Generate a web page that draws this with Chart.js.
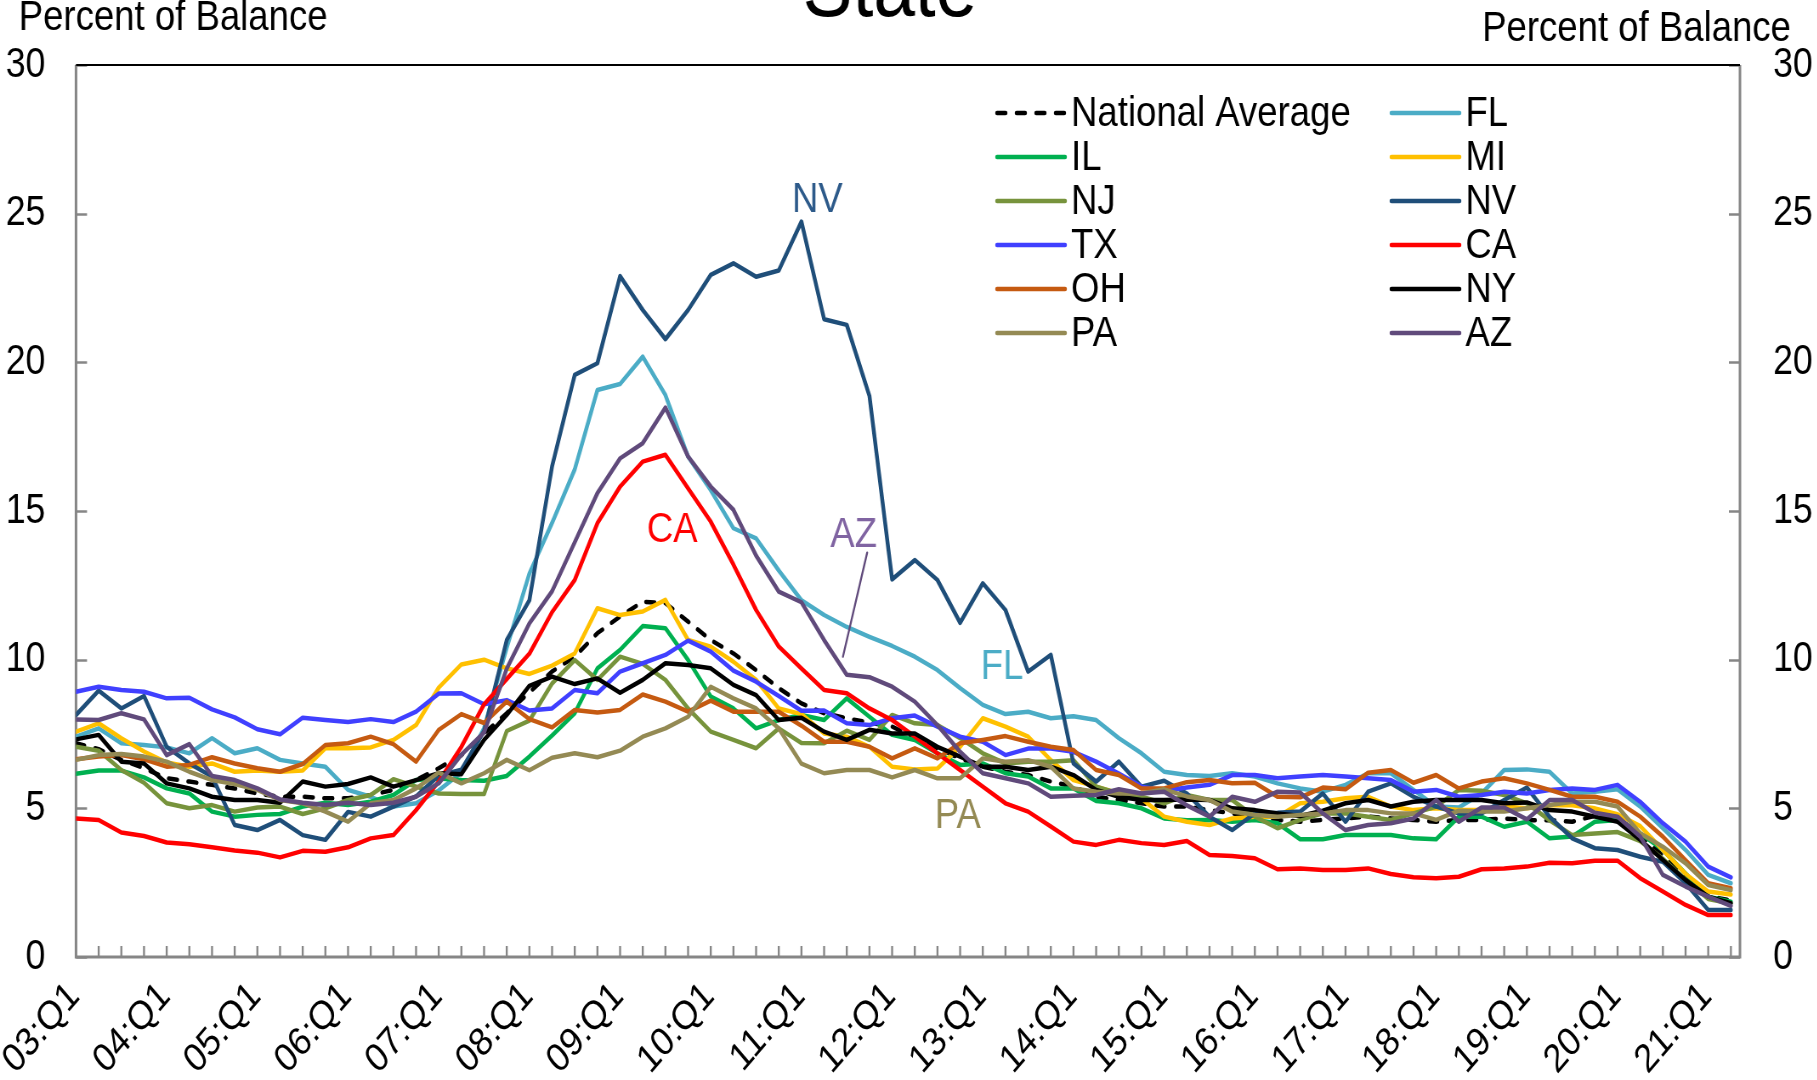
<!DOCTYPE html>
<html>
<head>
<meta charset="utf-8">
<title>Percent of Balance by State</title>
<script src="https://cdn.jsdelivr.net/npm/chart.js@4.4.1/dist/chart.umd.min.js"></script>
<style>
    html, body { margin: 0; padding: 0; background: #ffffff; overflow: hidden; }
    #wrap { position: relative; width: 1817px; height: 1080px; overflow: hidden; }
    /* the chart is laid out wide and squeezed horizontally, like the printed exhibit */
    #stateChart { display: block; width: 2138px; height: 1080px; transform: scaleX(0.85); transform-origin: 0 0; }
</style>
</head>
<body>
<div id="wrap"><canvas id="stateChart" width="2138" height="1080"></canvas></div>
<script>
// -----------------------------------------
// 1. DATA (quarterly, 03:Q1 - 21:Q2)
// -----------------------------------------
const years = ["03", "04", "05", "06", "07", "08", "09", "10", "11", "12",
               "13", "14", "15", "16", "17", "18", "19", "20", "21"];
const lastQuarter = 2; // series ends at 21:Q2

const yTicks = [0, 5, 10, 15, 20, 25, 30];

const nationalAvg = [7.19, 6.99, 6.63, 6.35, 6.01, 5.9, 5.79, 5.67, 5.5, 5.39, 5.39, 5.34, 5.34, 5.45, 5.62, 5.95,
    6.35, 6.79, 7.52, 8.2, 8.9, 9.6, 10.1, 10.89, 11.45, 11.95, 11.9, 11.28, 10.66, 10.21, 9.65, 9.04,
    8.53, 8.2, 8.03, 7.88, 7.75, 7.36, 7.02, 6.68, 6.4, 6.23, 6.12, 5.9, 5.73, 5.39, 5.28, 5.17,
    5.06, 5.06, 4.94, 4.83, 4.72, 4.61, 4.55, 4.61, 4.66, 4.72, 4.66, 4.61, 4.55, 4.61, 4.61, 4.66,
    4.6, 4.6, 4.55, 4.75, 4.7, 4.1, 3.4, 2.7, 2.05, 1.9];
const fl = [7.41, 7.69, 7.19, 7.13, 7.05, 6.85, 7.36, 6.85, 7.02, 6.63, 6.51, 6.4, 5.62, 5.39, 5.06, 5.17,
    5.6, 6.2, 7.7, 10.4, 12.9, 14.6, 16.4, 19.07, 19.27, 20.19, 18.9, 16.83, 15.7, 14.42, 14.08, 13.0,
    12.0, 11.5, 11.1, 10.77, 10.46, 10.1, 9.65, 9.04, 8.48, 8.17, 8.25, 8.03, 8.1, 7.97, 7.36, 6.85,
    6.23, 6.12, 6.09, 6.18, 6.07, 5.84, 5.67, 5.56, 5.79, 6.18, 6.18, 5.62, 5.06, 5.03, 5.5, 6.29,
    6.31, 6.23, 5.5, 5.56, 5.64, 5.06, 4.33, 3.6, 2.76, 2.48];
const il = [6.16, 6.27, 6.27, 6.04, 5.67, 5.5, 4.89, 4.72, 4.78, 4.81, 5.06, 5.19, 5.11, 5.22, 5.45, 5.95,
    6.0, 5.95, 5.93, 6.09, 6.74, 7.45, 8.2, 9.71, 10.33, 11.13, 11.06, 9.99, 8.76, 8.36, 7.69, 7.97,
    8.14, 7.97, 8.7, 8.08, 7.47, 7.3, 6.85, 6.46, 6.51, 6.18, 6.07, 5.67, 5.67, 5.25, 5.17, 5.0,
    4.66, 4.6, 4.61, 4.55, 4.61, 4.5, 3.96, 3.96, 4.1, 4.1, 4.1, 3.99, 3.96, 4.72, 4.72, 4.38,
    4.55, 3.99, 4.05, 4.55, 4.61, 4.16, 3.6, 2.81, 2.03, 1.86];
const mi = [7.58, 7.86, 7.36, 6.91, 6.54, 6.4, 6.51, 6.23, 6.27, 6.23, 6.27, 7.02, 7.02, 7.05, 7.3, 7.8,
    9.06, 9.84, 10.0, 9.71, 9.52, 9.8, 10.21, 11.73, 11.5, 11.62, 12.01, 10.66, 10.44, 9.93, 9.32, 8.36,
    8.17, 7.52, 7.41, 7.07, 6.4, 6.31, 6.34, 7.07, 8.03, 7.75, 7.41, 6.62, 5.95, 5.73, 5.5, 5.33,
    4.72, 4.55, 4.44, 4.66, 4.72, 4.72, 5.17, 5.22, 5.34, 5.39, 5.06, 4.94, 5.0, 4.94, 4.94, 5.06,
    5.0, 5.1, 5.1, 5.0, 4.8, 4.4, 3.6, 2.8, 2.2, 2.1];
const nj = [7.07, 6.94, 6.29, 5.86, 5.17, 5.0, 5.11, 4.89, 5.03, 5.06, 4.81, 5.0, 5.28, 5.45, 5.98, 5.73,
    5.5, 5.48, 5.48, 7.6, 7.95, 9.2, 9.99, 9.32, 10.1, 9.86, 9.32, 8.36, 7.58, 7.3, 7.02, 7.69,
    7.2, 7.19, 7.61, 7.3, 8.14, 7.86, 7.8, 7.36, 6.85, 6.51, 6.57, 6.57, 6.62, 5.73, 5.5, 5.39,
    5.17, 5.45, 5.28, 5.28, 4.72, 4.33, 4.61, 4.83, 4.83, 4.72, 4.61, 4.83, 5.06, 5.62, 5.59, 5.45,
    5.17, 4.6, 4.1, 4.15, 4.2, 3.9, 3.3, 2.6, 1.95, 1.8];
const nv = [8.14, 8.96, 8.36, 8.78, 7.07, 6.51, 6.07, 4.44, 4.27, 4.61, 4.1, 3.94, 4.88, 4.72, 5.06, 5.4,
    6.1, 6.3, 7.6, 10.66, 12.0, 16.5, 19.58, 19.97, 22.9, 21.76, 20.78, 21.76, 22.94, 23.33, 22.88, 23.09,
    24.73, 21.45, 21.26, 18.87, 12.7, 13.35, 12.68, 11.24, 12.57, 11.67, 9.6, 10.16, 6.51, 5.9, 6.57, 5.73,
    5.93, 5.5, 4.72, 4.27, 4.83, 4.85, 4.89, 5.5, 4.55, 5.56, 5.84, 5.39, 5.06, 4.83, 4.83, 5.28,
    5.7, 4.72, 3.99, 3.66, 3.6, 3.37, 3.2, 2.48, 1.58, 1.58];
const tx = [8.92, 9.09, 8.98, 8.92, 8.7, 8.72, 8.33, 8.06, 7.66, 7.49, 8.05, 7.97, 7.9, 8.0, 7.9, 8.25,
    8.86, 8.87, 8.5, 8.64, 8.29, 8.36, 8.98, 8.87, 9.6, 9.88, 10.16, 10.64, 10.27, 9.63, 9.26, 8.78,
    8.28, 8.29, 7.86, 7.8, 8.03, 8.12, 7.75, 7.41, 7.24, 6.79, 7.01, 7.01, 6.9, 6.57, 6.17, 5.73,
    5.59, 5.7, 5.79, 6.12, 6.12, 6.01, 6.07, 6.12, 6.07, 6.01, 5.95, 5.56, 5.62, 5.39, 5.45, 5.56,
    5.5, 5.62, 5.67, 5.62, 5.79, 5.22, 4.5, 3.88, 3.04, 2.68];
const ca = [4.66, 4.61, 4.19, 4.07, 3.85, 3.79, 3.69, 3.58, 3.51, 3.35, 3.57, 3.54, 3.69, 3.99, 4.1, 4.94,
    5.9, 7.07, 8.5, 9.35, 10.2, 11.6, 12.68, 14.59, 15.82, 16.66, 16.89, 15.76, 14.64, 13.2, 11.67, 10.44,
    9.7, 8.98, 8.87, 8.36, 7.97, 7.41, 6.85, 6.29, 5.73, 5.17, 4.89, 4.39, 3.88, 3.77, 3.94, 3.83,
    3.77, 3.9, 3.43, 3.4, 3.32, 2.95, 2.98, 2.93, 2.93, 2.98, 2.79, 2.68, 2.65, 2.7, 2.95, 2.98,
    3.04, 3.17, 3.15, 3.24, 3.24, 2.65, 2.2, 1.75, 1.41, 1.41];
const oh = [6.65, 6.74, 6.79, 6.65, 6.4, 6.46, 6.72, 6.51, 6.35, 6.23, 6.49, 7.13, 7.19, 7.41, 7.16, 6.57,
    7.64, 8.17, 7.87, 8.59, 8.0, 7.72, 8.31, 8.22, 8.31, 8.83, 8.59, 8.25, 8.62, 8.25, 8.25, 8.25,
    7.78, 7.24, 7.24, 7.07, 6.68, 7.02, 6.68, 7.19, 7.3, 7.43, 7.24, 7.07, 6.96, 6.29, 6.12, 5.67,
    5.67, 5.88, 5.95, 5.84, 5.86, 5.39, 5.37, 5.7, 5.64, 6.2, 6.29, 5.86, 6.12, 5.67, 5.9, 6.01,
    5.84, 5.62, 5.39, 5.39, 5.22, 4.72, 4.05, 3.26, 2.48, 2.31];
const ny = [7.32, 7.47, 6.57, 6.51, 5.84, 5.67, 5.39, 5.28, 5.28, 5.19, 5.9, 5.73, 5.82, 6.04, 5.73, 5.95,
    6.18, 6.15, 7.3, 8.14, 9.12, 9.43, 9.18, 9.37, 8.89, 9.32, 9.88, 9.82, 9.71, 9.15, 8.81, 7.97,
    8.05, 7.58, 7.3, 7.64, 7.52, 7.52, 7.07, 6.74, 6.4, 6.4, 6.29, 6.4, 6.12, 5.62, 5.39, 5.28,
    5.28, 5.3, 5.28, 5.0, 4.94, 4.83, 4.74, 4.92, 5.17, 5.28, 5.06, 5.22, 5.28, 5.28, 5.28, 5.17,
    5.2, 4.94, 4.89, 4.72, 4.55, 3.94, 3.26, 2.59, 2.03, 1.81];
const pa = [6.63, 6.79, 6.83, 6.74, 6.57, 6.23, 5.95, 5.82, 5.62, 5.28, 5.17, 4.89, 4.55, 5.17, 5.28, 5.67,
    6.2, 5.84, 6.18, 6.63, 6.28, 6.7, 6.85, 6.72, 6.94, 7.41, 7.69, 8.08, 9.09, 8.7, 8.36, 7.69,
    6.5, 6.18, 6.29, 6.29, 6.04, 6.29, 6.01, 6.01, 6.68, 6.57, 6.62, 6.4, 5.67, 5.56, 5.5, 5.5,
    5.64, 5.4, 5.28, 4.89, 4.78, 4.72, 4.78, 4.83, 4.94, 4.94, 4.83, 4.83, 4.61, 4.92, 4.89, 4.89,
    5.0, 5.11, 5.22, 5.22, 5.06, 4.16, 3.71, 3.15, 2.42, 2.25];
const az = [7.99, 7.97, 8.2, 7.99, 6.79, 7.16, 6.09, 5.95, 5.67, 5.3, 5.19, 5.11, 5.19, 5.11, 5.19, 5.39,
    5.84, 6.8, 7.55, 9.7, 11.22, 12.3, 13.95, 15.6, 16.77, 17.28, 18.48, 16.83, 15.82, 15.04, 13.5, 12.29,
    11.93, 10.66, 9.49, 9.41, 9.09, 8.59, 7.8, 6.9, 6.18, 6.01, 5.84, 5.39, 5.42, 5.45, 5.64, 5.5,
    5.56, 5.1, 4.72, 5.39, 5.22, 5.56, 5.53, 4.83, 4.27, 4.44, 4.5, 4.66, 5.28, 4.55, 5.03, 5.03,
    4.63, 5.28, 5.28, 4.85, 4.72, 4.05, 2.76, 2.37, 2.03, 1.72];

// quarter labels built from the year list: 03:Q1 ... 21:Q2
const quarterLabels = [];
years.forEach((yr, k) => {
    const n = k === years.length - 1 ? lastQuarter : 4;
    for (let q = 1; q <= n; q++) quarterLabels.push(yr + ":Q" + q);
});

// legend order (row by row, two columns)
const series = [
    { label: "National Average", data: nationalAvg, color: "#000000", dashed: true },
    { label: "FL", data: fl, color: "#4BACC6" },
    { label: "IL", data: il, color: "#00B050" },
    { label: "MI", data: mi, color: "#FFC000" },
    { label: "NJ", data: nj, color: "#77933C" },
    { label: "NV", data: nv, color: "#1F4E79" },
    { label: "TX", data: tx, color: "#4040FF" },
    { label: "CA", data: ca, color: "#FF0000" },
    { label: "OH", data: oh, color: "#C55A11" },
    { label: "NY", data: ny, color: "#000000" },
    { label: "PA", data: pa, color: "#948A54" },
    { label: "AZ", data: az, color: "#604A7B" }
];

// in-chart callouts, placed in data units (quarter index, percent)
const callouts = [
    { text: "NV", x: 32.7, y: 25.45, color: "#2D5A8A" },
    { text: "CA", x: 26.3, y: 14.35, color: "#FF0000" },
    { text: "AZ", x: 34.3, y: 14.2, color: "#8064A2" },
    { text: "FL", x: 40.85, y: 9.75, color: "#4BACC6" },
    { text: "PA", x: 38.9, y: 4.75, color: "#948A54" }
];
const azLeader = { x1: 34.9, y1: 13.6, x2: 33.83, y2: 10.1 };

// -----------------------------------------
// 2. STYLE
// -----------------------------------------
const FONT = '"Liberation Sans", Arial, Helvetica, sans-serif';
const AXIS_GRAY = "#868686";
const LINE_W = 4.5;
const TEXT_PX = 43;

const datasets = series.map((s, k) => ({
    label: s.label,
    data: s.data.map((v, i) => ({ x: i, y: v })),
    borderColor: s.color,
    backgroundColor: s.color,
    borderWidth: LINE_W,
    borderDash: s.dashed ? [10, 13] : [],
    borderCapStyle: "round",
    borderJoinStyle: "round",
    pointRadius: 0,
    pointHoverRadius: 0,
    tension: 0,
    fill: false,
    order: series.length - k, // later series drawn on top
    yAxisID: "y"
}));

// -----------------------------------------
// 3. FRAME, LEGEND AND TEXT
// -----------------------------------------
const frameAndText = {
    id: "frameAndText",
    beforeDatasetsDraw(chart) {
        const { ctx, chartArea: a, scales } = chart;
        const x = scales.x, y = scales.y;
        ctx.save();

        // inward tick marks
        ctx.strokeStyle = AXIS_GRAY;
        ctx.lineWidth = 2.3;
        ctx.beginPath();
        yTicks.forEach(v => {
            const py = Math.round(y.getPixelForValue(v)) + 0.5;
            ctx.moveTo(a.left, py); ctx.lineTo(a.left + 13, py);
            ctx.moveTo(a.right, py); ctx.lineTo(a.right - 13, py);
        });
        for (let i = 1; i < quarterLabels.length; i++) {
            const px = x.getPixelForValue(i);
            ctx.moveTo(px, a.bottom); ctx.lineTo(px, a.bottom - 11);
        }
        ctx.stroke();

        // axis lines
        ctx.lineWidth = 3;
        ctx.beginPath();
        ctx.moveTo(a.left, a.top);
        ctx.lineTo(a.left, a.bottom);
        ctx.lineTo(a.right, a.bottom);
        ctx.lineTo(a.right, a.top);
        ctx.stroke();

        ctx.strokeStyle = "#000000";
        ctx.lineWidth = 2;
        ctx.beginPath();
        ctx.moveTo(a.left, a.top);
        ctx.lineTo(a.right, a.top);
        ctx.stroke();
        ctx.restore();
    },
    afterDraw(chart) {
        const { ctx, scales } = chart;
        const x = scales.x, y = scales.y;
        ctx.save();

        // title (second line, runs off the top edge)
        ctx.fillStyle = "#000000";
        ctx.textAlign = "center";
        ctx.textBaseline = "alphabetic";
        ctx.font = "88px " + FONT;
        ctx.fillText("State", 1047, 16);

        // axis titles
        ctx.font = TEXT_PX + "px " + FONT;
        ctx.textBaseline = "middle";
        ctx.textAlign = "left";
        ctx.fillText("Percent of Balance", 22, 18);
        ctx.textAlign = "right";
        ctx.fillText("Percent of Balance", 2107, 29);

        // legend, two columns
        const colX = [1173, 1637];
        ctx.textAlign = "left";
        series.forEach((s, k) => {
            const lx = colX[k % 2];
            const ly = 113 + Math.floor(k / 2) * 44;
            ctx.strokeStyle = s.color;
            ctx.lineWidth = LINE_W;
            ctx.lineCap = "round";
            ctx.setLineDash(s.dashed ? [10, 13] : []);
            ctx.beginPath();
            ctx.moveTo(lx, ly);
            ctx.lineTo(lx + 80, ly);
            ctx.stroke();
            ctx.setLineDash([]);
            ctx.fillStyle = "#000000";
            ctx.fillText(s.label, lx + 87, ly + 1);
        });

        // callouts
        ctx.textAlign = "center";
        callouts.forEach(c => {
            ctx.fillStyle = c.color;
            ctx.fillText(c.text, x.getPixelForValue(c.x), y.getPixelForValue(c.y));
        });
        ctx.strokeStyle = "#604A7B";
        ctx.lineWidth = 2.3;
        ctx.beginPath();
        ctx.moveTo(x.getPixelForValue(azLeader.x1), y.getPixelForValue(azLeader.y1));
        ctx.lineTo(x.getPixelForValue(azLeader.x2), y.getPixelForValue(azLeader.y2));
        ctx.stroke();
        ctx.restore();
    }
};

// -----------------------------------------
// 4. CHART
// -----------------------------------------
const yAxis = (side, width, pad) => ({
    position: side,
    min: 0,
    max: 30,
    grid: { display: false, drawTicks: false },
    border: { display: false },
    ticks: { stepSize: 5, padding: pad, color: "#000000", font: { family: FONT, size: 42 } },
    afterFit: s => { s.width = width; }
});

new Chart(document.getElementById("stateChart"), {
    type: "line",
    data: { datasets },
    options: {
        responsive: false,
        animation: false,
        events: [],
        layout: { padding: { top: 65, left: 0, right: 0, bottom: 0 } },
        plugins: {
            legend: { display: false },
            tooltip: { enabled: false }
        },
        scales: {
            x: {
                type: "linear",
                min: 0,
                max: 73.4,
                grid: { display: false, drawTicks: false },
                border: { display: false },
                ticks: {
                    stepSize: 1,
                    autoSkip: false,
                    maxRotation: 45,
                    minRotation: 45,
                    padding: 16,
                    labelOffset: -2,
                    color: "#000000",
                    font: { family: FONT, size: 40 },
                    callback: v => (Number.isInteger(v) && quarterLabels[v] && quarterLabels[v].endsWith("Q1")) ? quarterLabels[v] : ""
                },
                afterFit: s => {
                    s.height = 123;
                    // keep the rotated first label from pushing the plot area right
                    s.paddingLeft = 0;
                    s.paddingRight = 0;
                }
            },
            y: yAxis("left", 89.4, 36),
            y2: yAxis("right", 91, 39)
        }
    },
    plugins: [frameAndText]
});
</script>
</body>
</html>
